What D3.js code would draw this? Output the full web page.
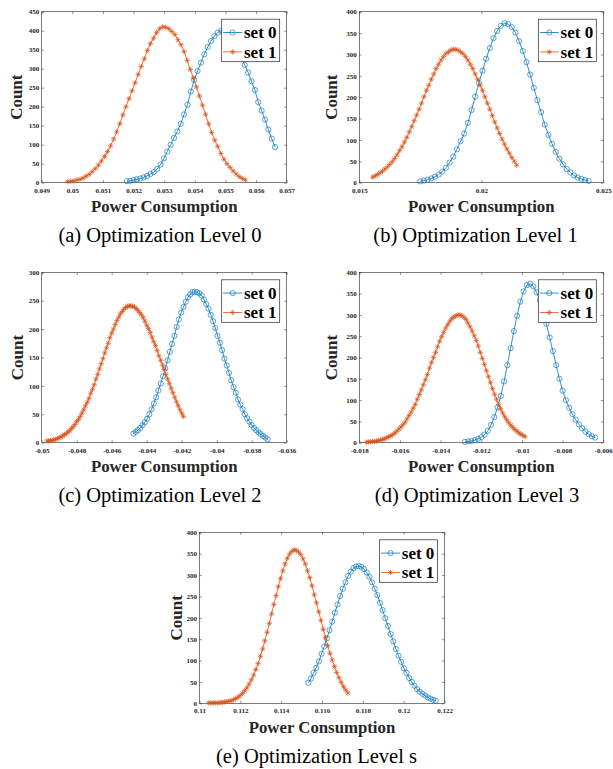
<!DOCTYPE html>
<html>
<head>
<meta charset="utf-8">
<script src="https://cdn.jsdelivr.net/npm/d3@7"></script>
<style>
  body { margin: 0; background: #fff; }
  svg { display: block; }
</style>
</head>
<body>
<div id="fig"></div>
<script>
// ---- data (histogram counts, bins are evenly spaced: first bin centre + bin width) ----

// (a) Optimization Level 0
var aTicksX = [0.049, 0.05, 0.051, 0.052, 0.053, 0.054, 0.055, 0.056, 0.057];
var aTicksY = [0, 50, 100, 150, 200, 250, 300, 350, 400, 450];
var aSet0First = 0.05178, aSet0Width = 0.00011;
var aSet0 = [4,5,7,9,11,14,18,23,28,36,48,64,82,100,118,135,155,180,205,240,270,294,316,338,357,373,386,395,400,401,397,385,367,347,328,310,290,267,244,212,190,166,140,116,94];
var aSet1First = 0.04985, aSet1Width = 0.0001;
var aSet1 = [3,4,5,7,9,12,17,22,29,37,46,57,69,82,97,115,134,155,178,200,221,242,263,285,306,326,348,366,380,395,405,410,409,405,398,390,376,363,345,322,298,276,252,228,204,180,155,132,112,95,77,62,50,40,31,23,16,11,7];

// (b) Optimization Level 1
var bTicksX = [0.015, 0.02, 0.025];
var bTicksY = [0, 50, 100, 150, 200, 250, 300, 350, 400];
var bSet0First = 0.0175, bSet0Width = 0.00015;
var bSet0 = [3,5,7,10,14,19,26,35,47,61,78,97,115,140,170,201,233,262,290,315,338,355,367,373,371,364,351,331,308,282,253,222,193,165,136,112,91,72,56,43,32,24,17,12,9,6,4];
var bSet1First = 0.01555, bSet1Width = 0.0001;
var bSet1 = [13,16,19,23,27,32,37,43,49,57,65,75,84,95,106,119,131,145,158,172,186,201,216,228,242,254,267,277,287,295,302,306,310,312,312,310,306,302,295,287,277,267,254,242,228,216,201,186,172,157,142,128,115,102,90,79,69,59,50,41];

// (c) Optimization Level 2
var cTicksX = [-0.05, -0.048, -0.046, -0.044, -0.042, -0.04, -0.038, -0.036];
var cTicksY = [0, 50, 100, 150, 200, 250, 300];
var cSet0First = -0.04476, cSet0Width = 0.00013;
var cSet0 = [16,19,22,26,31,36,42,50,59,69,80,92,104,117,131,145,160,174,188,204,217,229,239,248,256,261,265,266,265,263,259,252,244,236,225,214,202,188,176,163,148,136,123,110,98,88,76,67,59,50,43,37,31,26,22,18,15,12,9,6];
var cSet1First = -0.0497, cSet1Width = 0.0001;
var cSet1 = [3,3,4,4,5,6,7,9,10,12,14,16,19,21,25,28,32,37,41,46,52,58,65,71,78,87,94,102,112,120,130,139,148,158,167,175,185,193,200,208,215,221,227,231,235,238,240,241,241,240,239,236,233,229,225,220,214,207,201,194,186,178,171,162,153,145,137,129,120,112,104,96,88,80,72,65,58,52,46];

// (d) Optimization Level 3
var dTicksX = [-0.018, -0.016, -0.014, -0.012, -0.01, -0.008, -0.006];
var dTicksY = [0, 50, 100, 150, 200, 250, 300, 350, 400];
var dSet0First = -0.0128, dSet0Width = 0.00016;
var dSet0 = [2,3,4,6,9,13,19,28,42,60,83,110,144,182,222,262,298,331,355,370,373,367,353,334,308,279,247,215,182,150,122,100,82,67,54,43,34,26,20,15,12];
var dSet1First = -0.01765, dSet1Width = 0.0001;
var dSet1 = [1,2,2,3,3,4,5,6,8,9,12,14,16,19,23,27,32,37,42,48,56,64,72,81,90,102,113,124,136,148,160,175,188,200,212,225,238,249,259,269,277,285,291,295,298,300,300,298,294,289,281,272,262,251,240,227,212,198,184,169,155,141,127,114,102,90,80,70,61,54,47,41,36,31,27,23,20,17,14];

// (e) Optimization Level s
var eTicksX = [0.11, 0.112, 0.114, 0.116, 0.118, 0.12, 0.122];
var eTicksY = [0, 50, 100, 150, 200, 250, 300, 350, 400];
var eSet0First = 0.11533, eSet0Width = 0.00013;
var eSet0 = [48,58,71,83,98,116,133,152,171,191,212,231,251,268,283,298,308,316,320,321,319,314,306,296,283,268,253,235,218,199,181,162,145,127,111,97,82,71,59,50,41,33,27,22,18,14,11,8,6];
var eSet1First = 0.11045, eSet1Width = 0.00011;
var eSet1 = [1,1,1,1,1,2,2,3,4,5,6,8,11,14,18,23,29,36,45,55,66,79,93,110,127,146,166,187,209,231,252,273,292,310,326,339,349,355,359,358,354,348,338,326,310,294,275,254,235,214,194,173,154,135,117,101,86,72,60,49,39,31,24];

var seriesNames = ['set 0', 'set 1'];
var captions = ['(a) Optimization Level 0', '(b) Optimization Level 1', '(c) Optimization Level 2', '(d) Optimization Level 3', '(e) Optimization Level s'];

// ---- layout ----
var BLUE = '#0072BD', ORANGE = '#D95319', AXIS = '#262626';
var SERIF = '"Liberation Serif", "Times New Roman", serif';

function bins(first, width, counts) {
	return counts.map(function(c, i) { return {x: first + i * width, y: c}; });
}

var panels = [
	{left: 41.7, top: 11.7, right: 286.7, bottom: 182.7, xDomain: [0.049, 0.057], yMax: 450, xTicks: aTicksX, yTicks: aTicksY,
	 s0: bins(aSet0First, aSet0Width, aSet0), s1: bins(aSet1First, aSet1Width, aSet1), caption: captions[0], capX: 160, countX: 20},
	{left: 359.3, top: 11.7, right: 603.3, bottom: 182.7, xDomain: [0.015, 0.025], yMax: 400, xTicks: bTicksX, yTicks: bTicksY,
	 s0: bins(bSet0First, bSet0Width, bSet0), s1: bins(bSet1First, bSet1Width, bSet1), caption: captions[1], capX: 475.5, countX: 22},
	{left: 41.7, top: 272.3, right: 286.7, bottom: 442.7, xDomain: [-0.05, -0.036], yMax: 300, xTicks: cTicksX, yTicks: cTicksY,
	 s0: bins(cSet0First, cSet0Width, cSet0), s1: bins(cSet1First, cSet1Width, cSet1), caption: captions[2], capX: 160, countX: 19},
	{left: 359.3, top: 272.3, right: 603.3, bottom: 442.7, xDomain: [-0.018, -0.006], yMax: 400, xTicks: dTicksX, yTicks: dTicksY,
	 s0: bins(dSet0First, dSet0Width, dSet0), s1: bins(dSet1First, dSet1Width, dSet1), caption: captions[3], capX: 477, countX: 22},
	{left: 199.5, top: 532.3, right: 444.5, bottom: 703.3, xDomain: [0.11, 0.122], yMax: 400, xTicks: eTicksX, yTicks: eTicksY,
	 s0: bins(eSet0First, eSet0Width, eSet0), s1: bins(eSet1First, eSet1Width, eSet1), caption: captions[4], capX: 316.5, countX: 18}
];

var svg = d3.select('#fig').append('svg')
	.attr('width', 613)
	.attr('height', 769);

svg.append('rect').attr('width', 613).attr('height', 769).attr('fill', '#fff');

// asterisk marker, like matlab '*'
function starPath(s) {
	var d = s * 0.72;
	return 'M' + (-s) + ',0H' + s + 'M0,' + (-s) + 'V' + s +
		'M' + (-d) + ',' + (-d) + 'L' + d + ',' + d + 'M' + (-d) + ',' + d + 'L' + d + ',' + (-d);
}

function drawMarker(g, kind, cx, cy) {
	if (kind == 'o') {
		g.append('circle').attr('cx', cx).attr('cy', cy).attr('r', 2.6)
			.attr('fill', 'none').attr('stroke', BLUE).attr('stroke-width', 0.65);
	} else {
		g.append('path').attr('transform', 'translate(' + cx + ',' + cy + ')')
			.attr('d', starPath(2.7)).attr('fill', 'none')
			.attr('stroke', ORANGE).attr('stroke-width', 0.7);
	}
}

function styleAxis(g, showLabels) {
	g.select('.domain').remove();
	g.attr('font-family', SERIF).attr('font-size', 7).attr('font-weight', 'bold')
		.style('color', AXIS);
	g.selectAll('.tick line').attr('stroke-width', 0.5);
	if (!showLabels) g.selectAll('.tick text').remove();
}

panels.forEach(function(p) {
	var g = svg.append('g');

	var x = d3.scaleLinear().domain(p.xDomain).range([p.left, p.right]);
	var y = d3.scaleLinear().domain([0, p.yMax]).range([p.bottom, p.top]);

	// axes, ticks pointing inward on all four sides
	g.append('g').attr('transform', 'translate(0,' + p.bottom + ')')
		.call(d3.axisBottom(x).tickValues(p.xTicks).tickSizeInner(-2.5).tickSizeOuter(0).tickPadding(5.2).tickFormat(String))
		.call(styleAxis, true);
	g.append('g').attr('transform', 'translate(0,' + p.top + ')')
		.call(d3.axisTop(x).tickValues(p.xTicks).tickSizeInner(-2.5).tickSizeOuter(0))
		.call(styleAxis, false);
	g.append('g').attr('transform', 'translate(' + p.left + ',0)')
		.call(d3.axisLeft(y).tickValues(p.yTicks).tickSizeInner(-2.5).tickSizeOuter(0).tickPadding(2.5).tickFormat(String))
		.call(styleAxis, true);
	g.append('g').attr('transform', 'translate(' + p.right + ',0)')
		.call(d3.axisRight(y).tickValues(p.yTicks).tickSizeInner(-2.5).tickSizeOuter(0))
		.call(styleAxis, false);

	g.append('rect')
		.attr('x', p.left).attr('y', p.top)
		.attr('width', p.right - p.left).attr('height', p.bottom - p.top)
		.attr('fill', 'none').attr('stroke', AXIS).attr('stroke-width', 0.6);

	// series
	var line = d3.line().x(function(d) { return x(d.x); }).y(function(d) { return y(d.y); });

	[[p.s0, BLUE, 'o'], [p.s1, ORANGE, '*']].forEach(function(s) {
		g.append('path').datum(s[0]).attr('d', line)
			.attr('fill', 'none').attr('stroke', s[1]).attr('stroke-width', 0.8);
		var mg = g.append('g');
		s[0].forEach(function(d) { drawMarker(mg, s[2], x(d.x), y(d.y)); });
	});

	// legend
	var lw = 58, lh = 42.5;
	var lx = p.right - 7 - lw, ly = p.top + 7.5;
	var leg = g.append('g');
	leg.append('rect').attr('x', lx).attr('y', ly).attr('width', lw).attr('height', lh)
		.attr('fill', '#fff').attr('stroke', AXIS).attr('stroke-width', 0.7);
	seriesNames.forEach(function(name, i) {
		var ry = ly + 13.3 + i * 19.4;
		var col = i == 0 ? BLUE : ORANGE;
		leg.append('line').attr('x1', lx + 1.5).attr('x2', lx + 20.5).attr('y1', ry).attr('y2', ry)
			.attr('stroke', col).attr('stroke-width', 0.8);
		drawMarker(leg, i == 0 ? 'o' : '*', lx + 11, ry);
		leg.append('text').attr('x', lx + 22.3).attr('y', ry + 5.8)
			.attr('font-family', SERIF).attr('font-weight', 'bold').attr('font-size', 17)
			.attr('fill', '#000').text(name);
	});

	// labels
	g.append('text')
		.attr('x', (p.left + p.right) / 2).attr('y', p.bottom + 29.3)
		.attr('text-anchor', 'middle')
		.attr('font-family', SERIF).attr('font-weight', 'bold').attr('font-size', 16.8)
		.attr('fill', AXIS).text('Power Consumption');

	g.append('text')
		.attr('transform', 'translate(' + (p.left - p.countX) + ',' + ((p.top + p.bottom) / 2) + ') rotate(-90)')
		.attr('text-anchor', 'middle')
		.attr('font-family', SERIF).attr('font-weight', 'bold').attr('font-size', 17)
		.attr('fill', AXIS).text('Count');

	g.append('text')
		.attr('x', p.capX).attr('y', p.bottom + 59.5)
		.attr('text-anchor', 'middle')
		.attr('font-family', SERIF).attr('font-size', 20.5)
		.attr('fill', '#000').text(p.caption);
});
</script>
</body>
</html>
